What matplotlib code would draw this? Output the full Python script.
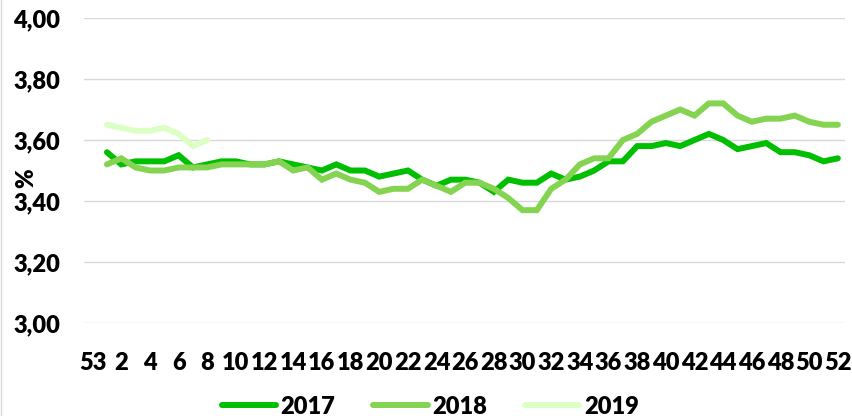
import numpy as np
import matplotlib
matplotlib.use("Agg")
import matplotlib.pyplot as plt
from matplotlib.lines import Line2D

plt.rcParams["font.family"] = ["Lato", "DejaVu Sans"]
plt.rcParams["font.weight"] = "heavy"

# kategorier: uke 53 + uke 1-52
weeks = ["53"] + [str(w) for w in range(1, 53)]

nan = np.nan
y2017 = [nan, 3.56, 3.52, 3.53, 3.53, 3.53, 3.55, 3.51, 3.52, 3.53, 3.53,
         3.52, 3.52, 3.53, 3.52, 3.51, 3.50, 3.52, 3.50, 3.50, 3.48,
         3.49, 3.50, 3.47, 3.45, 3.47, 3.47, 3.46, 3.43, 3.47, 3.46,
         3.46, 3.49, 3.47, 3.48, 3.50, 3.53, 3.53, 3.58, 3.58, 3.59,
         3.58, 3.60, 3.62, 3.60, 3.57, 3.58, 3.59, 3.56, 3.56, 3.55,
         3.53, 3.54]
y2018 = [nan, 3.52, 3.54, 3.51, 3.50, 3.50, 3.51, 3.51, 3.51, 3.52, 3.52,
         3.52, 3.52, 3.53, 3.50, 3.51, 3.47, 3.49, 3.47, 3.46, 3.43,
         3.44, 3.44, 3.47, 3.45, 3.43, 3.46, 3.46, 3.44, 3.41, 3.37,
         3.37, 3.44, 3.47, 3.52, 3.54, 3.54, 3.60, 3.62, 3.66, 3.68,
         3.70, 3.68, 3.72, 3.72, 3.68, 3.66, 3.67, 3.67, 3.68, 3.66,
         3.65, 3.65]
y2019 = [nan, 3.65, 3.64, 3.63, 3.63, 3.64, 3.62, 3.58, 3.60]

series = [("2017", y2017, "#00BF00"),
          ("2018", y2018, "#84D452"),
          ("2019", y2019, "#DCFFC6")]

yticks = [3.0, 3.2, 3.4, 3.6, 3.8, 4.0]

fig = plt.figure(figsize=(8.52, 4.16), dpi=100, facecolor="white")
ax = fig.add_axes([84 / 852, 1 - 323 / 416, 761 / 852, 305 / 416])

x = np.arange(len(weeks))
for name, vals, col in series:
    ax.plot(x[:len(vals)], vals, color=col, lw=4.3, label=name,
            solid_joinstyle="miter", solid_capstyle="round")

ax.set_ylim(3.0, 4.0)
ax.set_xlim(-0.6, 52.5)
ax.set_yticks(yticks)
ax.set_yticklabels([f"{v:.2f}".replace(".", ",") for v in yticks])
ax.set_xticks(x[::2])
ax.set_xticklabels(weeks[::2])
ax.tick_params(axis="both", length=0, labelsize=17, colors="black")
ax.tick_params(axis="y", pad=17)
ax.tick_params(axis="x", pad=21)
ax.grid(axis="y", color="#D9D9D9", lw=1)
ax.set_axisbelow(True)
for s in ax.spines.values():
    s.set_visible(False)

fig.text(26 / 852, 1 - 178 / 416, "%", rotation=90, fontsize=17,
         fontweight="heavy", ha="center", va="center")

fig.add_artist(Line2D([0.001, 0.001], [0, 1], color="#D9D9D9", lw=1))

fig.legend(loc="lower center", bbox_to_anchor=(0.505, -0.055), ncol=3,
           frameon=False, fontsize=17, handlelength=2.3,
           handletextpad=0.2, columnspacing=1.6)

fig.savefig("out.png", dpi=100, facecolor="white")
